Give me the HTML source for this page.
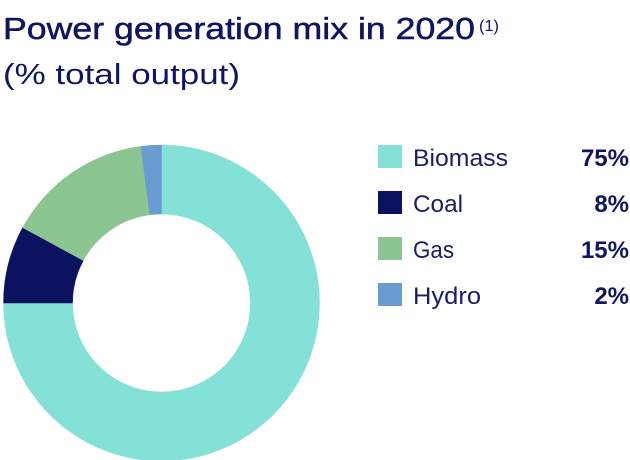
<!DOCTYPE html>
<html>
<head>
<meta charset="utf-8">
<style>
  html,body{margin:0;padding:0;background:#ffffff;}
  body{width:630px;height:460px;overflow:hidden;}
  svg{display:block;}
  text{font-family:"Liberation Sans", sans-serif;}
</style>
</head>
<body>
<svg width="630" height="460" viewBox="0 0 630 460" xmlns="http://www.w3.org/2000/svg">
  <rect width="630" height="460" fill="#ffffff"/>
  <!-- Title -->
  <text x="3" y="39" font-size="31" fill="#0E1563" stroke="#0E1563" stroke-width="0.5" textLength="472" lengthAdjust="spacingAndGlyphs">Power generation mix in 2020</text>
  <text x="479" y="31" font-size="16" fill="#0E1563" textLength="20" lengthAdjust="spacingAndGlyphs">(1)</text>
  <text x="3" y="84" font-size="29" fill="#0E1563" textLength="237" lengthAdjust="spacingAndGlyphs">(% total output)</text>

  <!-- Donut -->
  <path d="M161.5,145 A158,158 0 1 1 3.5,303 L72.5,303 A89,89 0 1 0 161.5,214 Z" fill="#83E1D7" stroke="#83E1D7" stroke-width="0.5"/>
  <path d="M3.5,303 A158,158 0 0 1 22.65,227.6 L83.29,260.53 A89,89 0 0 0 72.5,303 Z" fill="#0B1361" stroke="#0B1361" stroke-width="0.5"/>
  <path d="M22.65,227.6 A158,158 0 0 1 140.88,146.36 L149.88,214.76 A89,89 0 0 0 83.29,260.53 Z" fill="#8BC692" stroke="#8BC692" stroke-width="0.5"/>
  <path d="M140.88,146.36 A158,158 0 0 1 161.5,145 L161.5,214 A89,89 0 0 0 149.88,214.76 Z" fill="#6A9BD3" stroke="#6A9BD3" stroke-width="0.5"/>

  <!-- Legend -->
  <rect x="378" y="145" width="24" height="23" fill="#83E1D7"/>
  <rect x="378" y="191" width="24" height="23" fill="#0B1361"/>
  <rect x="378" y="237" width="24" height="23" fill="#8BC692"/>
  <rect x="378" y="283" width="24" height="23" fill="#6A9BD3"/>

  <text x="413" y="166" font-size="24" fill="#1A2068" textLength="95" lengthAdjust="spacingAndGlyphs">Biomass</text>
  <text x="413" y="212" font-size="24" fill="#1A2068" textLength="50" lengthAdjust="spacingAndGlyphs">Coal</text>
  <text x="413" y="258" font-size="24" fill="#1A2068" textLength="41" lengthAdjust="spacingAndGlyphs">Gas</text>
  <text x="413" y="304" font-size="24" fill="#1A2068" textLength="68" lengthAdjust="spacingAndGlyphs">Hydro</text>

  <text x="629" y="166" font-size="24" font-weight="bold" fill="#0E1563" text-anchor="end">75%</text>
  <text x="629" y="212" font-size="24" font-weight="bold" fill="#0E1563" text-anchor="end">8%</text>
  <text x="629" y="258" font-size="24" font-weight="bold" fill="#0E1563" text-anchor="end">15%</text>
  <text x="629" y="304" font-size="24" font-weight="bold" fill="#0E1563" text-anchor="end">2%</text>
</svg>
</body>
</html>
